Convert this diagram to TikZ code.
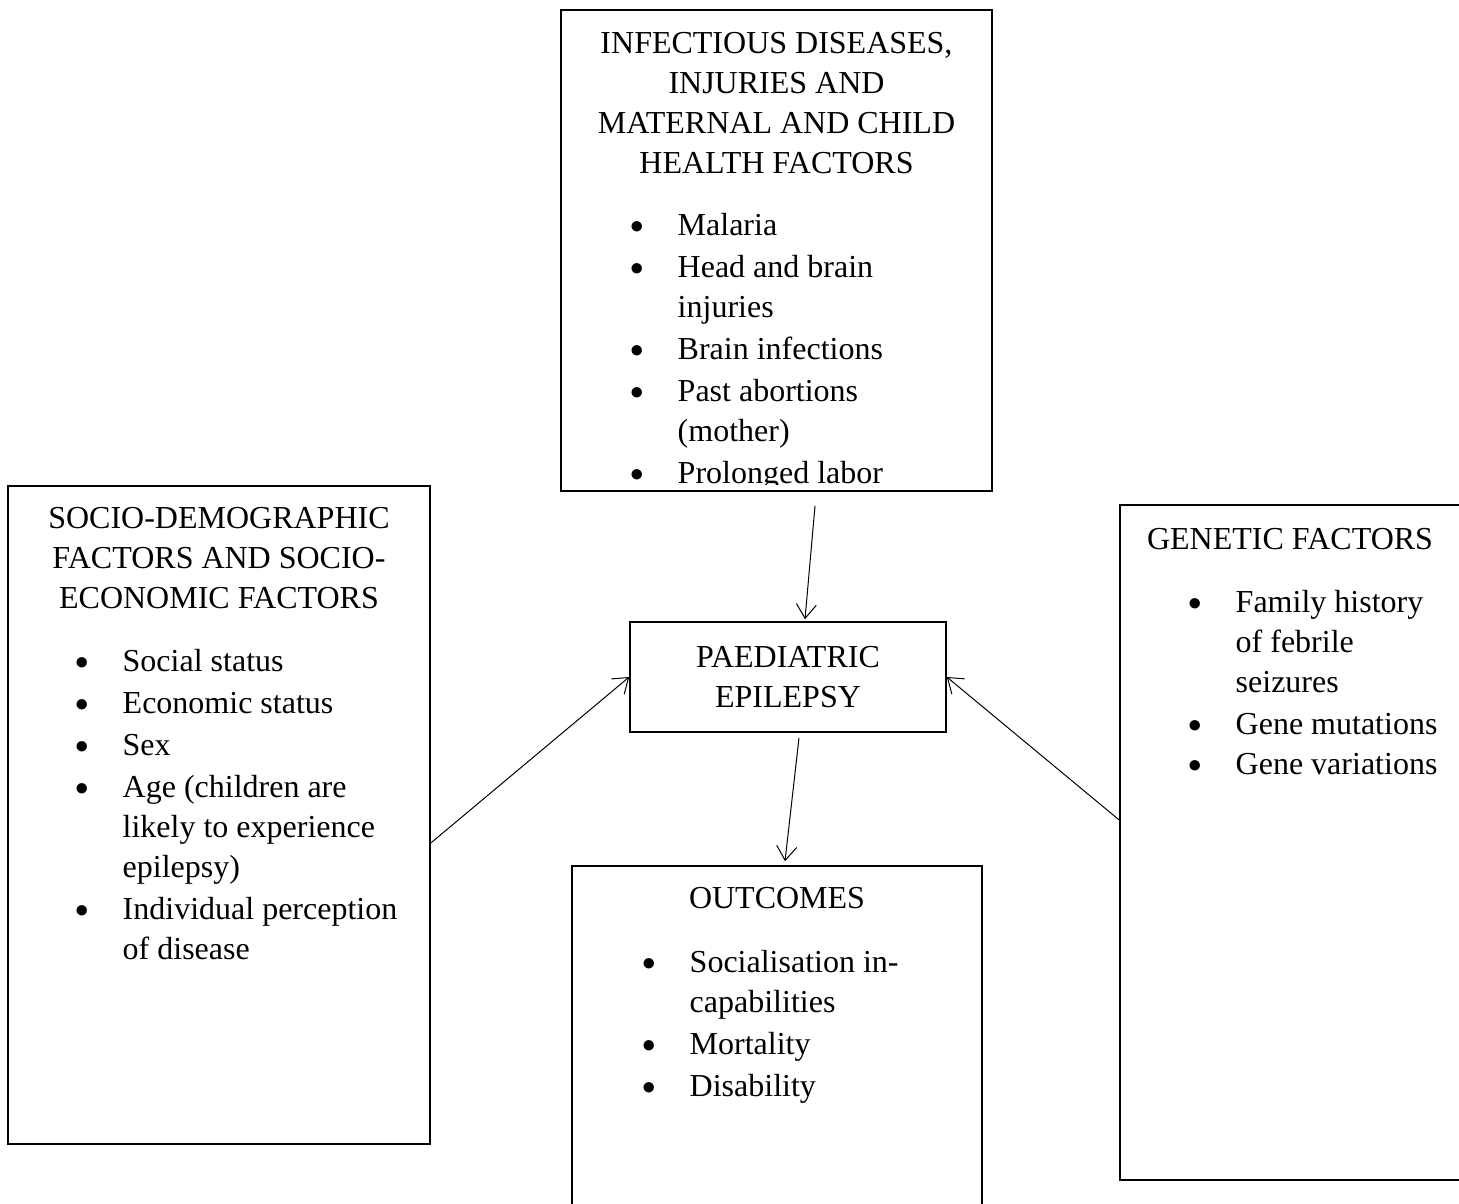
\documentclass[tikz,border=0pt]{standalone}
\usepackage{fontspec}
\setmainfont{Liberation Serif}
\usepackage{graphicx}
\usetikzlibrary{positioning}
\usetikzlibrary{arrows.meta}

% bullet hanging left of the item text
\newcommand\bitem{\llap{\raisebox{1.1pt}{\scalebox{0.78}{$\bullet$}}\hspace{17.1pt}}}

\begin{document}
\begin{tikzpicture}[x=0.5pt, y=-0.5pt,
      -{Straight Barb[length=7pt,width=10pt]},
      line width=0.5pt,
      every node/.style={font=\fontsize{16}{20}\selectfont, inner sep=0pt},
      box/.style={draw, line width=0.8pt},
      hd/.style={align=center},
      lst/.style={align=left}
      ]
    \useasboundingbox (0,0) rectangle (1459,1203);

    \node (infect) [box, minimum width=215.5pt, minimum height=240.5pt] at (776.5,250.5) {};
    \node (socio) [box, minimum width=211pt, minimum height=329pt] at (219,815) {};
    \node (genetic) [box, minimum width=170pt, minimum height=337.5pt] at (1290,842.5) {};
    \node (outcome) [box, minimum width=205pt, minimum height=174.5pt] at (777,1040.5) {};
    \node (cen) [box, align=center, minimum width=158pt, minimum height=55pt] at (788,677)
      {PAEDIATRIC\\EPILEPSY};

    % headings
    \node (infect-hd) [hd, below=11.5pt of infect.north]
      {INFECTIOUS DISEASES,\\INJURIES AND\\MATERNAL AND CHILD\\HEALTH FACTORS};
    \node (socio-hd) [hd, below=11pt of socio.north]
      {SOCIO-DEMOGRAPHIC\\FACTORS AND SOCIO-\\ECONOMIC FACTORS};
    \node (genetic-hd) [hd, below=12pt of genetic.north] {GENETIC FACTORS};
    \node (outcome-hd) [hd, below=11pt of outcome.north] {OUTCOMES};

    % lists
    \begin{scope}
      \clip ([yshift=3.5pt]infect.south west) rectangle (infect.north east);
      \node (infect-lst) [lst, below right=102pt and 58.5pt of infect.north west] {
        \bitem Malaria\\[1pt]
        \bitem Head and brain\\
        injuries\\[1pt]
        \bitem Brain infections\\[1pt]
        \bitem Past abortions\\
        (mother)\\[1pt]
        \bitem Prolonged labor};
    \end{scope}

    \node (socio-lst) [lst, below right=82pt and 57.5pt of socio.north west] {
      \bitem Social status\\[1pt]
      \bitem Economic status\\[1pt]
      \bitem Sex\\[1pt]
      \bitem Age (children are\\
      likely to experience\\
      epilepsy)\\[1pt]
      \bitem Individual perception\\
      of disease};

    \node (genetic-lst) [lst, below right=43pt and 58pt of genetic.north west] {
      \bitem Family history\\
      of febrile\\
      seizures\\[1pt]
      \bitem Gene mutations\\
      \bitem Gene variations};

    \node (outcome-lst) [lst, below right=42.5pt and 59pt of outcome.north west] {
      \bitem Socialisation in-\\
      capabilities\\[1pt]
      \bitem Mortality\\[1pt]
      \bitem Disability};

    \draw ([xshift=19.25pt, yshift=-7pt]infect.south) -- ([xshift=8.5pt, yshift=1pt]cen.north);
    \draw ([yshift=-14pt]socio.east) -- (cen.west);
    \draw ([yshift=11.25pt]genetic.west) -- (cen.east);
    \draw ([xshift=5.5pt, yshift=-2.5pt]cen.south) -- ([xshift=4pt, yshift=2pt]outcome.north);
  \end{tikzpicture}
\end{document}
